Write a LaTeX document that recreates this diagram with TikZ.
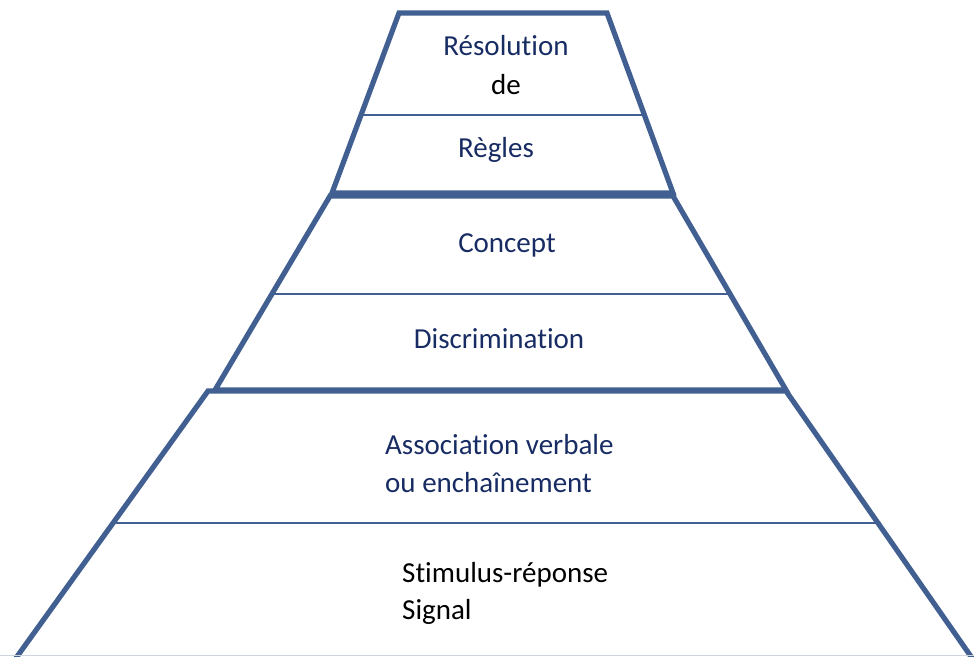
\documentclass[tikz,border=0pt]{standalone}
\usepackage{fontspec}
\setmainfont{Carlito}[Ligatures={NoCommon}]
\definecolor{edge}{RGB}{65,96,145}
\definecolor{navy}{RGB}{24,44,100}
\definecolor{faint}{RGB}{205,212,222}
\begin{document}
\begin{tikzpicture}[x=1pt,y=-1pt,
  thickedge/.style={draw=edge,line width=5.2pt,line join=miter},
  divider/.style={draw=edge,line width=1.9pt},
  lbl/.style={font=\fontsize{29}{34}\selectfont,inner sep=0pt,anchor=base},
  lbll/.style={lbl,anchor=base west}]
\useasboundingbox (0,0) rectangle (974,656);
% top trapezoid
\draw[thickedge] (399,13) -- (607,13) -- (673,193) -- (332,193) -- cycle;
\draw[divider] (363,115) -- (642,115);
% middle trapezoid
\draw[thickedge] (330,196) -- (673,196) -- (786,390) -- (215,390) -- cycle;
\draw[divider] (273,294) -- (729,294);
% bottom trapezoid
\draw[thickedge] (16,658) -- (208,391) -- (786,391) -- (972,658);
\draw[divider] (116,523) -- (881,523);
\draw[draw=faint,line width=1.2pt] (0,655.4) -- (974,655.4);
% labels
\node[lbl,text=navy] (res) at (506,55) {Résolution};
\node[lbl,text=black] (de) at (506,94) {de};
\node[lbl,text=navy] (reg) at (496,157) {Règles};
\node[lbl,text=navy] (con) at (507,252) {Concept};
\node[lbl,text=navy] (dis) at (499,348) {Discrimination};
\node[lbll,text=navy] (as1) at (385,454) {Association verbale};
\node[lbll,text=navy] (as2) at (385,492) {ou enchaînement};
\node[lbll,text=black] (st1) at (402,582) {Stimulus-réponse};
\node[lbll,text=black] (st2) at (402,619) {Signal};
\end{tikzpicture}
\end{document}
